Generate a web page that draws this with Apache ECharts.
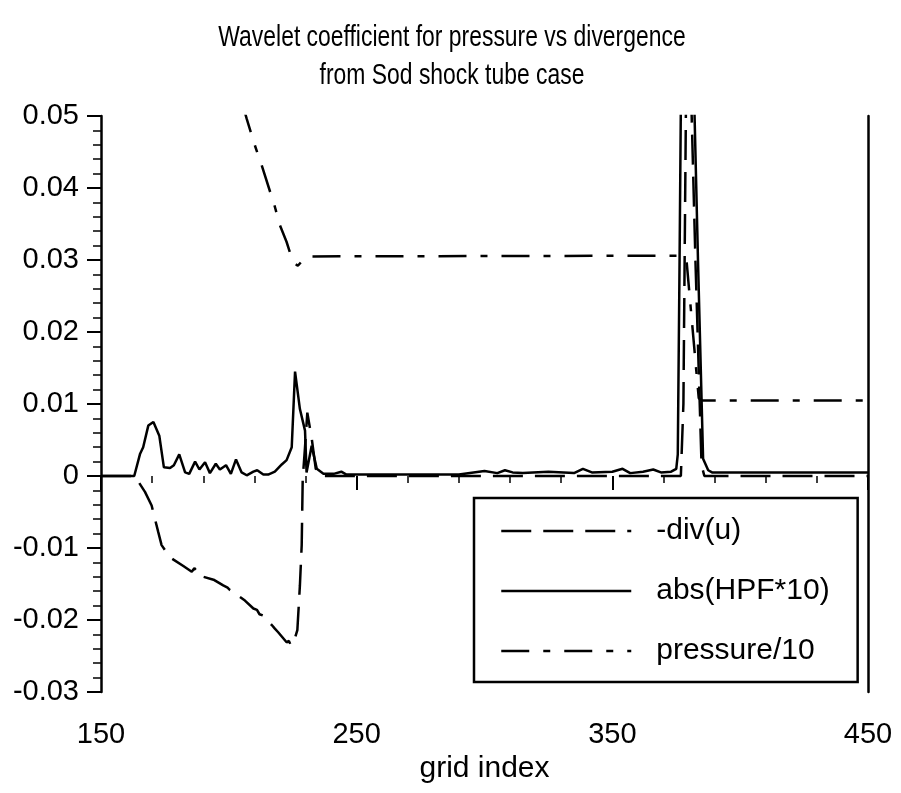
<!DOCTYPE html>
<html><head><meta charset="utf-8">
<script src="https://cdn.jsdelivr.net/npm/echarts@6/dist/echarts.min.js"></script>
<style>html,body{margin:0;padding:0;background:#fff}#c{width:901px;height:793px}</style>
</head><body><div id="c"></div>
<script>
const titleLines = ['Wavelet coefficient for pressure vs divergence', 'from Sod shock tube case'];
const seriesNames = ['-div(u)', 'abs(HPF*10)', 'pressure/10'];
const xAxisName = 'grid index';
const xTickLabels = [150, 250, 350, 450];

// abs(HPF*10)
const hpfX = [150, 163, 165.3, 166.5, 168.5, 170.5, 172.8, 174.6, 177, 178.5, 180.6, 182.9, 184.5, 186.8, 188.5, 190.7, 192.6, 194.9, 196.5, 198.9, 200.8, 202.8, 205, 207, 209.6, 211.1, 213.5, 215.4, 218, 220.7, 222.6, 224.6, 225.9, 227.8, 229.8, 230.4, 232.4, 234.4, 237, 241, 244, 246, 255, 270, 290, 300, 305, 308, 311, 315, 325, 335, 338.5, 342, 350, 354, 357, 362, 366, 369, 373, 375, 375.6, 376.3, 377, 381.5, 383.5, 385.5, 387.5, 389, 450];
const hpfY = [0, 0, 0.0031, 0.004, 0.007, 0.0075, 0.0056, 0.0012, 0.0011, 0.0015, 0.003, 0.0005, 0.0003, 0.002, 0.0009, 0.0019, 0.0004, 0.0017, 0.0009, 0.0015, 0.0003, 0.0023, 0.0005, 0.0001, 0.0006, 0.0008, 0.0002, 0.0002, 0.0006, 0.0016, 0.0022, 0.004, 0.0145, 0.0093, 0.0063, 0.0005, 0.0042, 0.001, 0.0003, 0.0003, 0.0006, 0.0002, 0.0002, 0.0002, 0.0002, 0.0007, 0.0004, 0.0008, 0.0005, 0.0004, 0.0006, 0.0004, 0.001, 0.0005, 0.0006, 0.001, 0.0004, 0.0006, 0.0009, 0.0005, 0.0006, 0.001, 0.003, 0.03, 0.06, 0.06, 0.03, 0.0024, 0.0008, 0.0005, 0.0005];

// -div(u)
const divX = [150, 163, 163.9, 167.2, 169.8, 172.4, 173.7, 177, 182.2, 185.5, 186.5, 187.2, 188, 190, 194, 197.8, 199.5, 200.3, 202.4, 206.3, 209.6, 211, 212, 213.5, 216.8, 218, 219.3, 222.6, 223.5, 224.2, 225.2, 226.8, 227.8, 228.5, 228.9, 229.8, 230.7, 232.5, 234, 236, 376.8, 377.8, 379, 380.3, 382.5, 384.9, 386, 450];
const divY = [0, 0, -0.0004, -0.0022, -0.0041, -0.0078, -0.0096, -0.0113, -0.0125, -0.0133, -0.0128, -0.0131, -0.013, -0.014, -0.0144, -0.0152, -0.0155, -0.0158, -0.0163, -0.0173, -0.0184, -0.0186, -0.0192, -0.0194, -0.0207, -0.0212, -0.0217, -0.0231, -0.0229, -0.0235, -0.0233, -0.0214, -0.0152, -0.0096, -0.0004, 0.004, 0.0088, 0.005, 0.001, 0, 0, 0.01, 0.06, 0.06, 0.03, 0.0015, 0, 0];

// pressure/10
const presX = [205.5, 207, 210.2, 212.9, 218, 220, 222.6, 224.5, 225.5, 227, 228.5, 231, 377, 379, 383.8, 385, 450];
const presY = [0.0515, 0.0496, 0.0459, 0.0431, 0.0374, 0.0348, 0.0325, 0.0304, 0.0296, 0.0292, 0.0298, 0.0305, 0.0306, 0.03, 0.0108, 0.0105, 0.0105];

const pairs = (xs, ys) => xs.map((x, i) => [x, ys[i]]);
const FONT = "'Liberation Sans', Arial, sans-serif";

const chart = echarts.init(document.getElementById('c'), null, {renderer: 'canvas'});
const lineBase = {type: 'line', symbol: 'none', showSymbol: false, clip: true, animation: false, z: 3};
chart.setOption({
  backgroundColor: '#fff',
  animation: false,
  graphic: [{
    type: 'text', x: 452, y: 19, scaleX: 0.79, scaleY: 1, z: 10,
    style: {text: titleLines.join('\n'), textAlign: 'center', textVerticalAlign: 'top',
      font: "normal 29px 'Liberation Sans', Arial, sans-serif", lineHeight: 38, fill: '#000'}
  }],
  grid: {left: 101, right: 33, top: 116, bottom: 101, containLabel: false},
  legend: {
    orient: 'vertical', left: 474, top: 498,
    data: seriesNames,
    itemWidth: 130, itemHeight: 30, itemGap: 30,
    padding: [18, 28, 16, 26],
    borderColor: '#000', borderWidth: 2.5, backgroundColor: '#fff',
    selectedMode: false,
    itemStyle: {opacity: 0},
    textStyle: {fontFamily: FONT, fontSize: 30, color: '#000', lineHeight: 30, padding: [0, 0, 0, 20]},
    lineStyle: {width: 2.5}
  },
  xAxis: {
    type: 'value', min: 150, max: 450, interval: 100, offset: 2,
    name: xAxisName, nameLocation: 'middle', nameGap: 60,
    nameTextStyle: {fontFamily: FONT, fontSize: 30, color: '#000'},
    axisLine: {show: false},
    axisTick: {show: true, length: 14, lineStyle: {color: '#000', width: 2}},
    minorTick: {show: true, splitNumber: 5, length: 7, lineStyle: {color: '#000', width: 1.5}},
    axisLabel: {fontFamily: FONT, fontSize: 29, color: '#000', margin: 26,
      formatter: v => xTickLabels.indexOf(Math.round(v)) >= 0 ? String(Math.round(v)) : ''},
    splitLine: {show: false}, minorSplitLine: {show: false}
  },
  yAxis: [{
    type: 'value', min: -0.03, max: 0.05, interval: 0.01,
    axisLine: {show: true, lineStyle: {color: '#000', width: 2.5}},
    axisTick: {show: true, length: 14, lineStyle: {color: '#000', width: 2}},
    minorTick: {show: true, splitNumber: 5, length: 8, lineStyle: {color: '#000', width: 1.5}},
    axisLabel: {fontFamily: FONT, fontSize: 29, color: '#000', margin: 22,
      formatter: v => Math.abs(v) < 1e-9 ? '0' : v.toFixed(2)},
    splitLine: {show: false}, minorSplitLine: {show: false}
  }, {
    type: 'value', min: -0.03, max: 0.05, position: 'right',
    axisLine: {show: true, onZero: false, lineStyle: {color: '#000', width: 2.5}},
    axisTick: {show: false}, axisLabel: {show: false}, splitLine: {show: false}
  }],
  series: [
    Object.assign({}, lineBase, {name: seriesNames[0], data: pairs(divX, divY),
      lineStyle: {color: '#000', width: 2.5, type: [30, 12]}, itemStyle: {color: '#000'}}),
    Object.assign({}, lineBase, {name: seriesNames[1], data: pairs(hpfX, hpfY),
      lineStyle: {color: '#000', width: 2.5, type: 'solid'}, itemStyle: {color: '#000'}}),
    Object.assign({}, lineBase, {name: seriesNames[2], data: pairs(presX, presY),
      lineStyle: {color: '#000', width: 2.5, type: [28, 14, 7, 14]}, itemStyle: {color: '#000'}})
  ]
});
</script>
</body></html>
